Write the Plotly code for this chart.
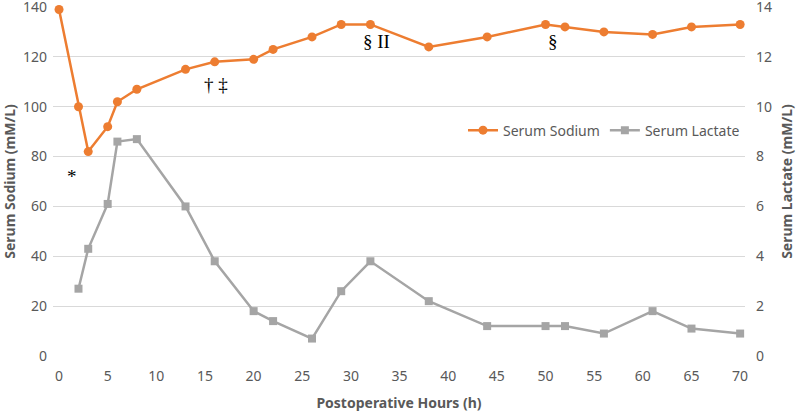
import plotly.graph_objects as go

hours_sodium = [0, 2, 3, 5, 6, 8, 13, 16, 20, 22, 26, 29, 32, 38, 44, 50, 52, 56, 61, 65, 70]
sodium = [139, 100, 82, 92, 102, 107, 115, 118, 119, 123, 128, 133, 133, 124, 128, 133, 132, 130, 129, 132, 133]

hours_lactate = [2, 3, 5, 6, 8, 13, 16, 20, 22, 26, 29, 32, 38, 44, 50, 52, 56, 61, 65, 70]
lactate = [2.7, 4.3, 6.1, 8.6, 8.7, 6.0, 3.8, 1.8, 1.4, 0.7, 2.6, 3.8, 2.2, 1.2, 1.2, 1.2, 0.9, 1.8, 1.1, 0.9]

marks_x = [1.3, 16.1, 32.6, 50.8]
marks_y = [72, 109, 126, 126]
marks_text = ["*", "† ‡", "§ II", "§"]

x_ticks = list(range(0, 71, 5))
sodium_ticks = list(range(0, 141, 20))
lactate_ticks = list(range(0, 15, 2))

ORANGE = "#ED7D31"
GRAY = "#A5A5A5"
TXT = "#595959"
FONT = "Noto Sans"

fig = go.Figure()
fig.add_trace(go.Scatter(
    x=hours_sodium, y=sodium, name="Serum Sodium", mode="lines+markers",
    line=dict(color=ORANGE, width=2.5), marker=dict(symbol="circle", size=9, color=ORANGE),
    cliponaxis=False))
fig.add_trace(go.Scatter(
    x=hours_lactate, y=lactate, name="Serum Lactate", mode="lines+markers", yaxis="y2",
    line=dict(color=GRAY, width=2.5), marker=dict(symbol="square", size=8, color=GRAY),
    cliponaxis=False))

for mx, my, mt in zip(marks_x, marks_y, marks_text):
    fig.add_annotation(x=mx, y=my, text=mt, showarrow=False,
                       font=dict(family="Liberation Serif", size=19, color="#000000"))

fig.update_layout(
    width=800, height=412,
    margin=dict(l=53, r=55, t=7, b=56, autoexpand=False),
    paper_bgcolor="white", plot_bgcolor="white",
    font=dict(family=FONT, size=14, color=TXT),
    showlegend=True,
    legend=dict(orientation="h", x=1.0, xanchor="right", y=0.646, yanchor="middle",
                bgcolor="rgba(0,0,0,0)", font=dict(size=14, color=TXT),
                itemwidth=30, tracegroupgap=0),
    xaxis=dict(range=[-0.62, 70.5], tickvals=x_ticks, showgrid=False, zeroline=False,
               showline=False, ticks="", tickfont=dict(size=14, color=TXT), automargin=False,
               ticklabelstandoff=10, ticklabeloverflow="allow",
               title=dict(text="<b>Postoperative Hours (h)</b>", font=dict(size=14, color=TXT), standoff=14)),
    yaxis=dict(range=[0, 140], tickvals=sodium_ticks, showgrid=True, gridcolor="#D9D9D9",
               gridwidth=1, zeroline=False, ticks="", tickfont=dict(size=14, color=TXT), automargin=False,
               ticklabelstandoff=5, ticklabeloverflow="allow",
               title=dict(text="<b>Serum Sodium (mM/L)</b>", font=dict(size=14, color=TXT), standoff=5)),
    yaxis2=dict(range=[0, 14], tickvals=lactate_ticks, overlaying="y", side="right",
                showgrid=False, zeroline=False, ticks="", tickfont=dict(size=14, color=TXT), automargin=False,
                ticklabelstandoff=10, ticklabeloverflow="allow",
                title=dict(text="<b>Serum Lactate (mM/L)</b>", font=dict(size=14, color=TXT), standoff=11)),
)

fig.write_html("out.html", config={"displayModeBar": False},
               post_script="document.body.style.margin='0';")
